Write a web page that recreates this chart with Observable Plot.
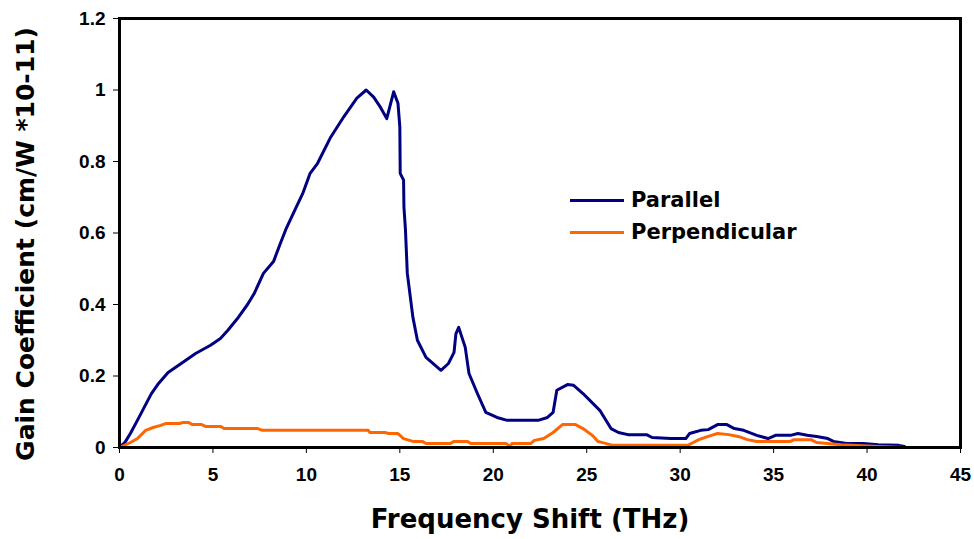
<!DOCTYPE html>
<html>
<head>
<meta charset="utf-8">
<script src="https://cdn.jsdelivr.net/npm/d3@7"></script>
<script src="https://cdn.jsdelivr.net/npm/@observablehq/plot@0.6"></script>
<style>
  html, body { margin: 0; padding: 0; background: #fff; }
  #wrap { position: relative; width: 974px; height: 539px; font-family: "Liberation Sans", Arial, sans-serif; }
  #legend { position: absolute; left: 570px; top: 184px; font-family: "DejaVu Sans", sans-serif; font-weight: bold; font-size: 21px; color: #000; }
  .row { display: flex; align-items: center; height: 32px; }
  .sw { width: 54px; height: 3px; margin-right: 7px; }
</style>
</head>
<body>
<div id="wrap"></div>
<script>
const xTicks = [0, 5, 10, 15, 20, 25, 30, 35, 40, 45];
const yTicks = [0, 0.2, 0.4, 0.6, 0.8, 1.0, 1.2];
const seriesNames = ["Parallel", "Perpendicular"];
const seriesColors = ["#000080", "#FF6600"];

const xPar = [0,0.3,0.59,1.0,1.3,1.7,2.1,2.6,3.3,4.07,4.87,5.4,5.8,6.3,6.85,7.2,7.7,8.24,8.6,8.9,9.3,9.8,10.2,10.6,11.3,12.0,12.7,13.2,13.6,13.96,14.3,14.67,14.9,15.0,15.02,15.2,15.22,15.3,15.4,15.7,15.94,16.4,17.2,17.6,17.9,18.0,18.15,18.5,18.7,19.15,19.6,20.2,20.75,22.4,22.9,23.2,23.4,23.97,24.3,24.8,25.7,26.3,26.7,27.2,28.2,28.5,29.5,30.3,30.5,31.1,31.5,32.0,32.5,32.9,33.4,34.1,34.7,35.1,35.9,36.3,36.8,37.3,37.9,38.2,38.9,39.8,40.6,41.7,42.0];
const yPar = [0,0.015,0.04,0.08,0.11,0.15,0.18,0.21,0.235,0.263,0.286,0.305,0.328,0.36,0.40,0.43,0.487,0.52,0.57,0.61,0.655,0.71,0.767,0.795,0.868,0.925,0.977,1.0,0.98,0.952,0.92,0.995,0.963,0.897,0.767,0.748,0.672,0.61,0.487,0.364,0.30,0.252,0.216,0.235,0.266,0.318,0.336,0.28,0.207,0.151,0.098,0.084,0.076,0.076,0.084,0.098,0.16,0.176,0.174,0.151,0.104,0.053,0.042,0.036,0.036,0.028,0.025,0.025,0.039,0.048,0.05,0.064,0.064,0.053,0.048,0.034,0.025,0.034,0.034,0.039,0.034,0.031,0.025,0.017,0.011,0.011,0.008,0.006,0.003];

const xPerp = [0,0.59,0.96,1.4,1.8,2.2,2.46,3.2,3.4,3.7,3.9,4.4,4.6,5.4,5.6,7.4,7.65,13.3,13.4,14.2,14.4,14.9,15.2,15.7,16.2,16.4,17.7,17.9,18.6,18.8,20.7,20.9,21.0,22.0,22.2,22.7,23.2,23.7,24.4,24.8,25.3,25.6,26.4,30.4,30.7,31.0,31.5,32.0,32.6,33.1,33.6,34.1,35.9,36.1,37.0,37.3,38.6,40.6,42.0];
const yPerp = [0,0.014,0.025,0.048,0.056,0.062,0.067,0.067,0.07,0.07,0.064,0.064,0.059,0.059,0.053,0.053,0.048,0.048,0.042,0.042,0.039,0.039,0.025,0.017,0.017,0.011,0.011,0.017,0.017,0.011,0.011,0.003,0.011,0.011,0.02,0.025,0.042,0.064,0.064,0.053,0.034,0.017,0.006,0.006,0.014,0.022,0.031,0.039,0.036,0.031,0.022,0.017,0.017,0.022,0.022,0.014,0.008,0.003,0];

const xLabel = "Frequency Shift (THz)";
const yLabel = "Gain Coefficient (cm/W *10-11)";

const par = xPar.map((x, i) => ({x, y: yPar[i]}));
const perp = xPerp.map((x, i) => ({x, y: yPerp[i]}));
const fmt = d => String(+d.toFixed(1));

const chart = Plot.plot({
  width: 974,
  height: 539,
  marginLeft: 119,
  marginRight: 14,
  marginTop: 18,
  marginBottom: 92,
  style: { fontFamily: "'Liberation Sans', Arial, sans-serif", background: "#fff", color: "#000", overflow: "visible" },
  x: { domain: [0, 45] },
  y: { domain: [0, 1.2] },
  marks: [
    Plot.axisX({ ticks: xTicks, tickSize: 6, tickPadding: 14, tickFormat: fmt, fontSize: 19, fontWeight: "bold", label: null, stroke: "#000" }),
    Plot.axisY({ ticks: yTicks, tickSize: 6, tickPadding: 8, tickFormat: fmt, fontSize: 19, fontWeight: "bold", label: null, stroke: "#000" }),
    Plot.line(par, { x: "x", y: "y", stroke: seriesColors[0], strokeWidth: 3, strokeLinejoin: "round" }),
    Plot.line(perp, { x: "x", y: "y", stroke: seriesColors[1], strokeWidth: 3, strokeLinejoin: "round" }),
    Plot.frame({ stroke: "#000", strokeWidth: 3 }),
    Plot.text([xLabel], { frameAnchor: "bottom", textAnchor: "middle", lineAnchor: "middle", dy: 72, dx: -10, fontSize: 26, fontWeight: "bold", fontFamily: "DejaVu Sans", fill: "#000" }),
    Plot.text([yLabel], { frameAnchor: "left", textAnchor: "middle", lineAnchor: "middle", dx: -94, dy: 11, rotate: -90, fontSize: 25, fontWeight: "bold", fontFamily: "DejaVu Sans", fill: "#000" })
  ]
});

const wrap = document.getElementById("wrap");
wrap.appendChild(chart);
const legend = document.createElement("div");
legend.id = "legend";
seriesNames.forEach((name, i) => {
  const row = document.createElement("div");
  row.className = "row";
  const sw = document.createElement("div");
  sw.className = "sw";
  sw.style.background = seriesColors[i];
  const t = document.createElement("span");
  t.textContent = name;
  row.appendChild(sw);
  row.appendChild(t);
  legend.appendChild(row);
});
wrap.appendChild(legend);
</script>
</body>
</html>
